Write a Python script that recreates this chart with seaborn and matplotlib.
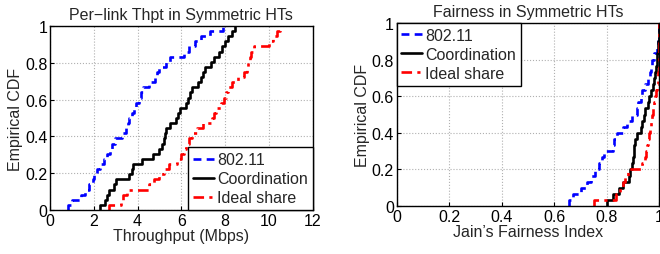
import matplotlib
matplotlib.use("Agg")
import pandas as pd
import matplotlib.pyplot as plt
import seaborn as sns

# Per-link throughput samples (Mbps)
thpt_80211 = [0.8, 1.0, 1.4, 1.6, 1.8, 1.95, 2.0, 2.15, 2.3, 2.45, 2.6, 2.75,
              2.85, 2.95, 3.3, 3.45, 3.55, 3.6, 3.75, 3.85, 3.95, 4.05, 4.15, 4.25,
              4.5, 4.8, 4.9, 5.0, 5.3, 5.5, 6.1, 6.35, 6.6, 6.9, 7.3, 7.9]
thpt_coord = [2.3, 2.5, 2.6, 2.7, 2.9, 3.0, 3.6, 3.75, 3.8, 4.2, 4.7, 5.0,
              5.1, 5.2, 5.25, 5.3, 5.5, 5.75, 5.85, 5.95, 6.2, 6.3, 6.4, 6.5,
              6.75, 6.9, 7.0, 7.1, 7.35, 7.5, 7.7, 7.85, 8.0, 8.15, 8.3, 8.45]
thpt_ideal = [2.7, 3.25, 3.35, 3.5, 4.5, 4.75, 5.0, 5.2, 5.45, 5.8, 6.0, 6.1,
              6.2, 6.35, 6.5, 6.7, 7.0, 7.4, 7.5, 7.6, 7.8, 7.95, 8.05, 8.15,
              8.3, 8.6, 8.85, 9.0, 9.05, 9.15, 9.2, 9.3, 10.0, 10.2, 10.35, 10.5]

# Jain's fairness index samples
fair_80211 = [0.655, 0.67, 0.70, 0.725, 0.74, 0.755, 0.77, 0.78, 0.79, 0.825,
              0.828, 0.84, 0.86, 0.875, 0.895, 0.915, 0.92, 0.93, 0.935, 0.945,
              0.955, 0.965, 0.968, 0.972, 0.98, 0.99, 0.995, 0.998, 0.999, 1.0]
fair_coord = [0.80, 0.825, 0.845, 0.86, 0.885, 0.89, 0.895, 0.898, 0.902, 0.905,
              0.908, 0.915, 0.93, 0.935, 0.94, 0.945, 0.955, 0.962, 0.968, 0.975,
              0.98, 0.985, 0.988, 0.99, 0.992, 0.994, 0.996, 0.998, 0.999, 1.0]
fair_ideal = [0.75, 0.835, 0.85, 0.862, 0.87, 0.88, 0.935, 0.945, 0.948, 0.952,
              0.957, 0.962, 0.966, 0.969, 0.972, 0.976, 0.98, 0.984, 0.987, 0.99,
              0.993, 0.995, 0.997, 0.998, 0.999, 0.9995, 1.0, 1.0, 1.0, 1.0]

series = ["802.11", "Coordination", "Ideal share"]
colors = ["#0000ff", "#000000", "#ff0000"]
dash_styles = [(0, (3, 2)), "-", (0, (4, 2, 1.2, 2))]

y_ticks = [0, 0.2, 0.4, 0.6, 0.8, 1.0]
y_labels = ["0", "0.2", "0.4", "0.6", "0.8", "1"]

sns.set_style("ticks")
plt.rcParams["font.family"] = ["Liberation Sans", "DejaVu Sans"]
plt.rcParams["font.size"] = 11.5

fig = plt.figure(figsize=(6.6, 2.55), dpi=100)
ax1 = fig.add_axes([0.0758, 0.1725, 0.398, 0.7216])
ax2 = fig.add_axes([0.601, 0.188, 0.398, 0.718])


def style_axes(ax):
    ax.set_ylim(0, 1)
    ax.set_yticks(y_ticks)
    ax.set_yticklabels(y_labels)
    ax.grid(True, linestyle=":", color="#b0b0b0", linewidth=0.8)
    ax.tick_params(direction="in", length=3, labelsize=11.5, pad=2, colors="black")
    for sp in ax.spines.values():
        sp.set_visible(True)
        sp.set_linewidth(1.0)
        sp.set_color("black")
    ax.set_ylabel("Empirical CDF", fontsize=11.5, labelpad=1)


def add_legend(ax, loc):
    leg = ax.legend(loc=loc, borderaxespad=0, handlelength=1.3, handletextpad=0.2,
                    fontsize=11.5, fancybox=False, framealpha=1, edgecolor="black",
                    labelspacing=0.25, borderpad=0.3)
    leg.get_frame().set_linewidth(1.0)


# left: throughput
for data, c, ls, name in zip([thpt_80211, thpt_coord, thpt_ideal], colors, dash_styles, series):
    df = pd.DataFrame({"v": data})
    sns.ecdfplot(data=df, x="v", ax=ax1, color=c, linestyle=ls, linewidth=1.9, label=name)
ax1.set_xlim(0, 12)
ax1.set_xticks([0, 2, 4, 6, 8, 10, 12])
style_axes(ax1)
ax1.set_xlabel("Throughput (Mbps)", fontsize=11.5, labelpad=0)
ax1.set_title("Per\u2212link Thpt in Symmetric HTs", fontsize=11.5, pad=5)
add_legend(ax1, "lower right")

# right: fairness
for data, c, ls, name in zip([fair_80211, fair_coord, fair_ideal], colors, dash_styles, series):
    df = pd.DataFrame({"v": data})
    sns.ecdfplot(data=df, x="v", ax=ax2, color=c, linestyle=ls, linewidth=1.9, label=name)
ax2.set_xlim(0, 1)
ax2.set_xticks([0, 0.2, 0.4, 0.6, 0.8, 1.0])
ax2.set_xticklabels(["0", "0.2", "0.4", "0.6", "0.8", "1"])
style_axes(ax2)
ax2.set_xlabel("Jain\u2019s Fairness Index", fontsize=11.5, labelpad=0)
ax2.set_title("Fairness in Symmetric HTs", fontsize=11.5, pad=5)
add_legend(ax2, "upper left")

fig.savefig("out.png", dpi=100)
